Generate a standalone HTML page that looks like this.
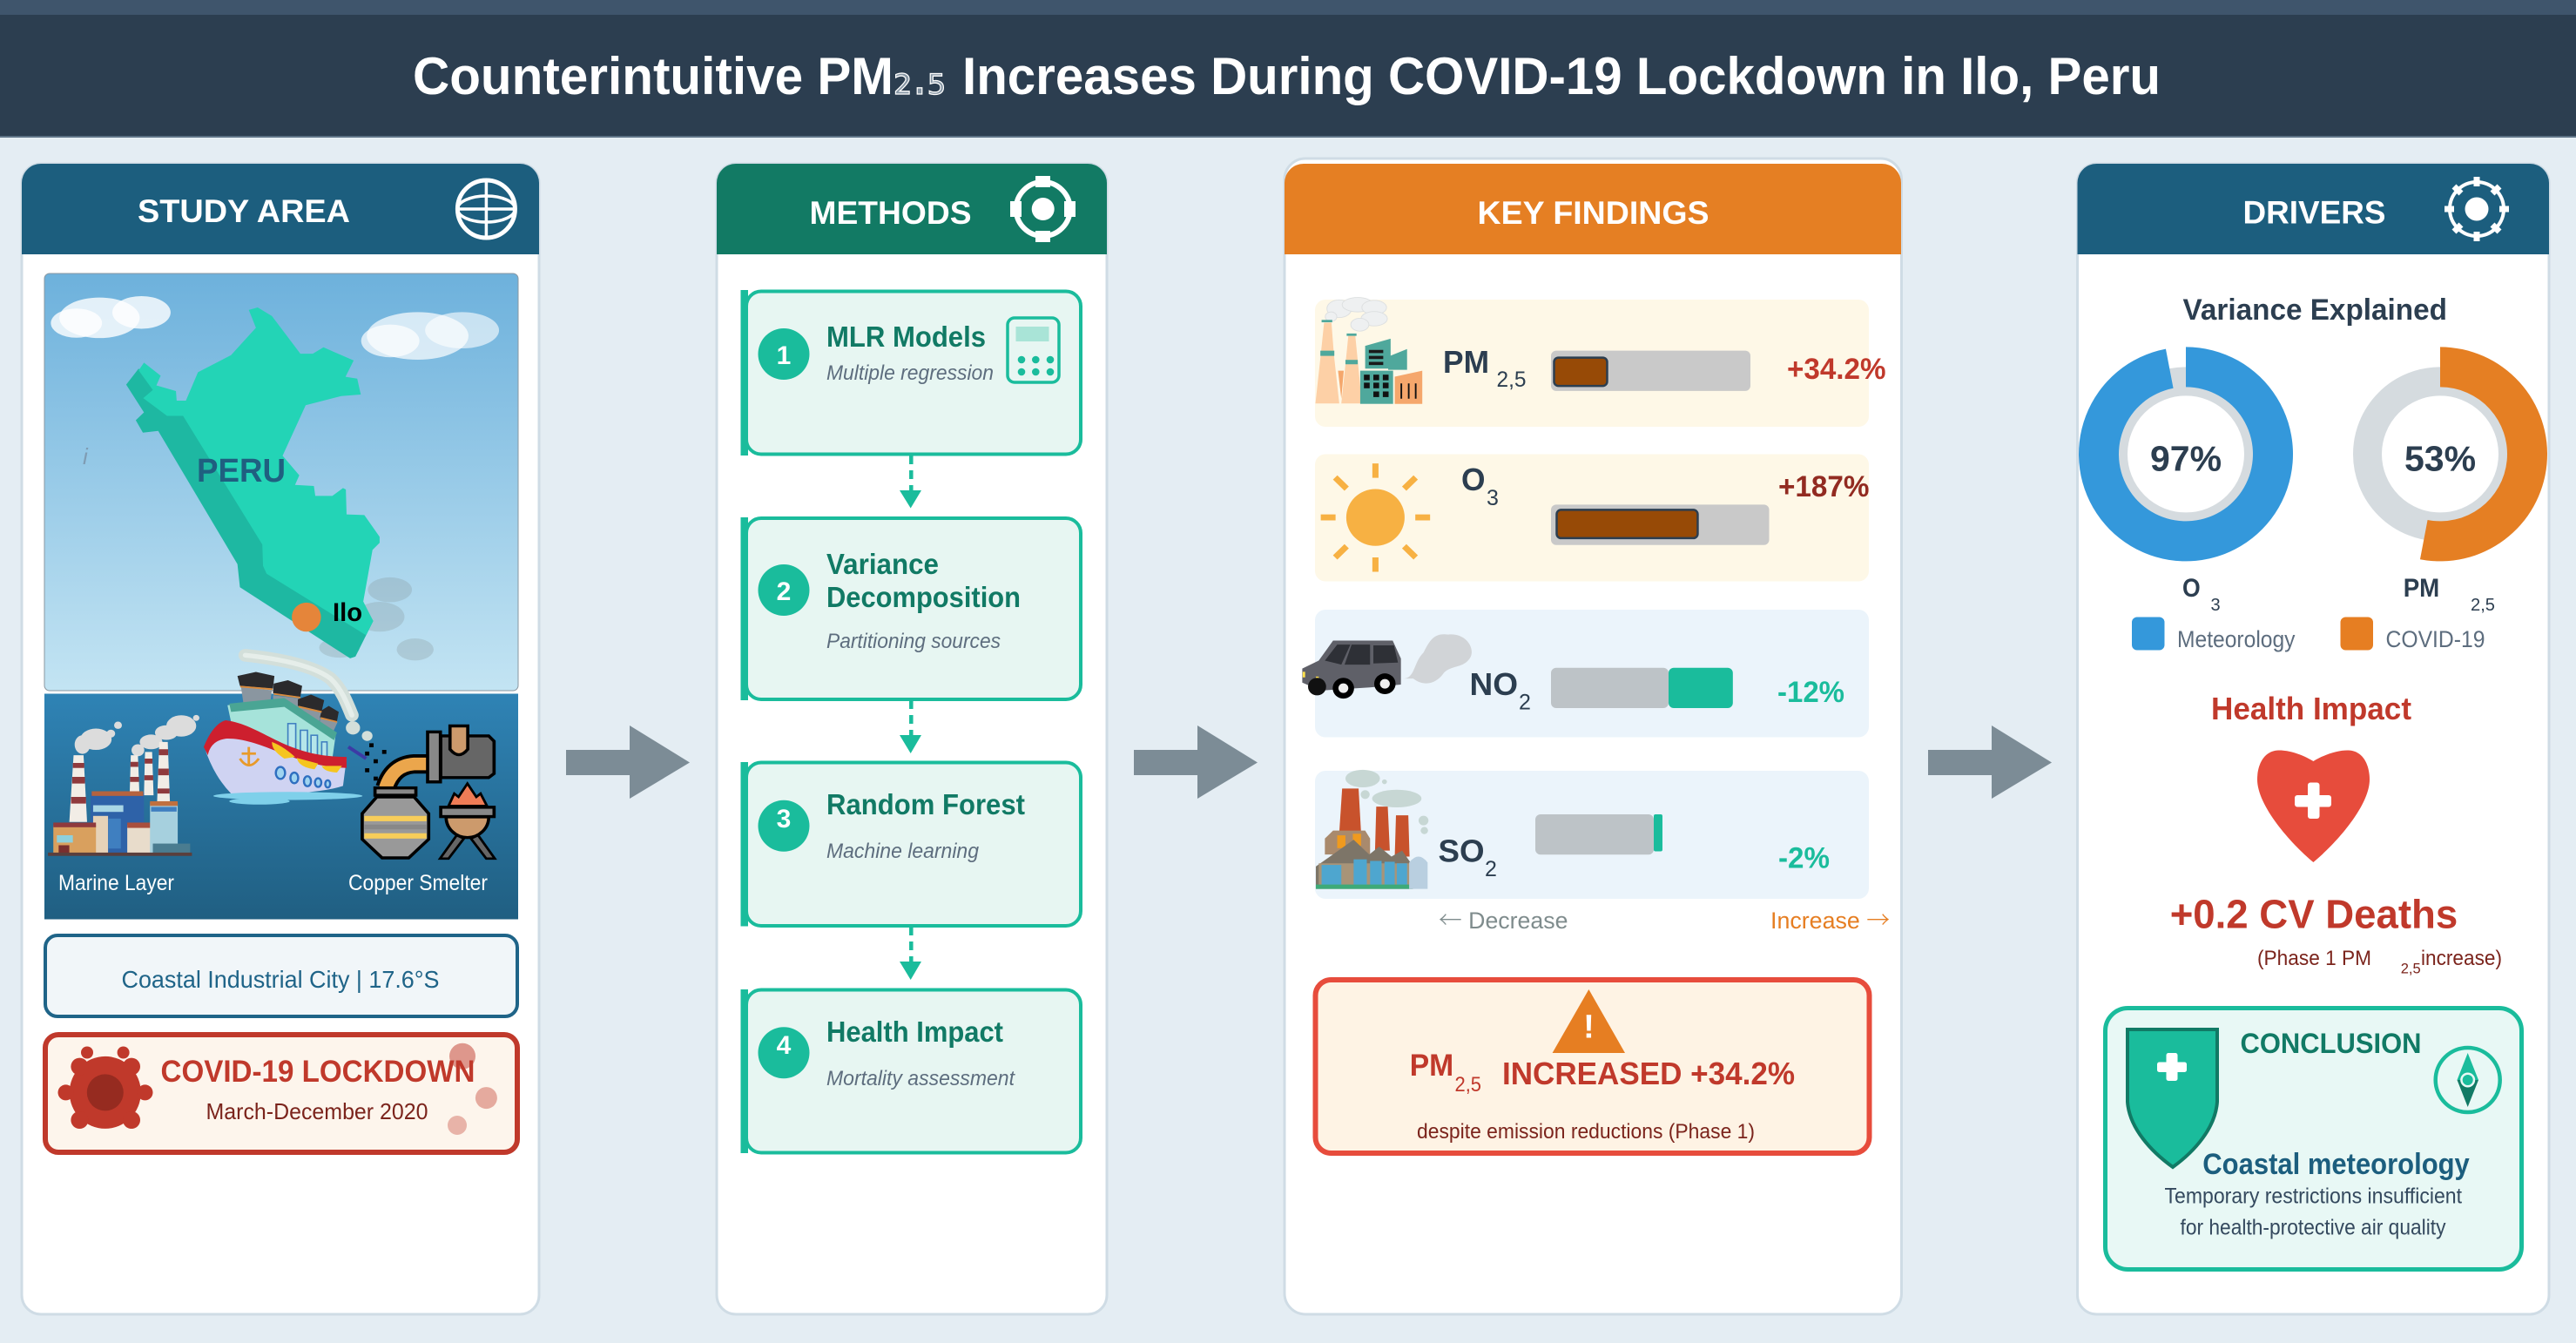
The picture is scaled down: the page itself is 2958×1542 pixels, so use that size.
<!DOCTYPE html>
<html lang="en">
<head>
<meta charset="utf-8">
<title>Counterintuitive PM2.5 Increases During COVID-19 Lockdown in Ilo, Peru</title>
<style>
html,body{margin:0;padding:0;background:#e4edf3;}
svg{display:block;font-family:"Liberation Sans","DejaVu Sans",sans-serif;}
.b{font-weight:700;}
.i{font-style:italic;}
</style>
</head>
<body>
<svg id="canvas" xmlns="http://www.w3.org/2000/svg" width="2958" height="1542" viewBox="0 0 2958 1542">
<defs>
<linearGradient id="sky" x1="0" y1="0" x2="0" y2="1"><stop offset="0" stop-color="#6db1dc"/><stop offset="1" stop-color="#c3e4f3"/></linearGradient>
<linearGradient id="sea" x1="0" y1="0" x2="0" y2="1"><stop offset="0" stop-color="#2f83b5"/><stop offset="1" stop-color="#205f82"/></linearGradient>
</defs>
<rect width="2958" height="1542" fill="#e4edf3"/>

<g>
<rect x="0" y="0" width="2958" height="157" fill="#2c3e50"/>
<rect x="0" y="0" width="2958" height="17" fill="#3f556c"/>
<rect x="0" y="156" width="2958" height="2" fill="#5d7386"/>
<g>
<text x="474" y="108" class="b" font-size="60" fill="#fff" textLength="552" lengthAdjust="spacingAndGlyphs">Counterintuitive PM</text>
<text x="1026" y="108" font-size="58" fill="#8796a4" stroke="#fff" stroke-width="1.3" style="font-family:'DejaVu Sans',sans-serif" textLength="60" lengthAdjust="spacingAndGlyphs">₂.₅</text>
<text x="1105" y="108" class="b" font-size="60" fill="#fff" textLength="1376" lengthAdjust="spacingAndGlyphs">Increases During COVID-19 Lockdown in Ilo, Peru</text>
</g>
</g>

<!-- STUDY AREA -->
<g>
<rect x="25" y="188" width="594" height="1321" rx="22" fill="#fff" stroke="#cfdce5" stroke-width="3"/>
<path d="M25,292V210a22,22 0 0 1 22,-22H597a22,22 0 0 1 22,22V292Z" fill="#1c5e7e"/>
<text x="158" y="255" class="b" font-size="37" fill="#fff" textLength="244" lengthAdjust="spacingAndGlyphs">STUDY AREA</text>
<g fill="none" stroke="#fff">
<circle cx="558.4" cy="240" r="33" stroke-width="5"/>
<ellipse cx="558.4" cy="240" rx="33" ry="15" stroke-width="3.5"/>
<path d="M558.4,207V273M525.4,240H591.4" stroke-width="3.5"/>
</g>

<g>
<rect x="51" y="314" width="544" height="479" rx="6" fill="url(#sky)" stroke="#8a97a0" stroke-width="1"/>
<g transform="translate(0,160) scale(.40816)">
<g fill="#fff">
<ellipse cx="280" cy="502" rx="113" ry="57" opacity=".8"/>
<ellipse cx="398" cy="487" rx="82" ry="46" opacity=".8"/>
<ellipse cx="215" cy="517" rx="72" ry="41" opacity=".8"/>
</g>
<g fill="#fff">
<ellipse cx="1175" cy="553" rx="143" ry="67" opacity=".7"/>
<ellipse cx="1300" cy="537" rx="104" ry="51" opacity=".6"/>
<ellipse cx="1098" cy="567" rx="82" ry="46" opacity=".7"/>
</g>
<g fill="#7f8c8d" opacity=".25">
<ellipse cx="1097" cy="1267" rx="62" ry="35"/>
<ellipse cx="1068" cy="1343" rx="70" ry="42"/>
<ellipse cx="955" cy="1430" rx="57" ry="28"/>
<ellipse cx="1168" cy="1435" rx="52" ry="31"/>
</g>
<polygon points="390,645 355,690 405,768 382,790 402,825 445,820 668,1195 675,1260 985,1460 1000,1455 1050,1355 900,1100 600,800 450,710" fill="#1eb8a2"/>
<polygon points="700,480 725,473 765,497 845,603 880,603 910,585 995,622 972,668 1005,673 1015,718 960,722 860,748 795,890 842,945 830,972 883,975 887,1003 935,1003 965,981 973,985 975,1055 1025,1057 1068,1118 1068,1135 1048,1155 1022,1300 1050,1355 1030,1395 750,1222 740,1200 738,1140 515,778 470,778 403,728 430,705 390,650 405,628 452,665 440,692 495,708 497,735 523,735 557,655 650,607 720,530" fill="#23d4b6"/>
<circle cx="862" cy="1344" r="41" fill="#e5853a"/>
</g>
<text x="226" y="553" class="b" font-size="38" fill="#1f5f80" textLength="102" lengthAdjust="spacingAndGlyphs">PERU</text>
<text x="382" y="713" class="b" font-size="30" fill="#000" textLength="34" lengthAdjust="spacingAndGlyphs">Ilo</text>
<text x="95" y="533" class="i" font-size="26" fill="#7f9cb3">i</text>
</g>

<g>
<rect x="51" y="796.5" width="544" height="259" fill="url(#sea)"/>
<g transform="translate(0,760) scale(.40816,.3827)">
<g>
<g fill="#dcdcdc">
<ellipse cx="270" cy="232" rx="44" ry="32"/><ellipse cx="232" cy="248" rx="22" ry="28"/><circle cx="312" cy="215" r="12"/><circle cx="332" cy="190" r="11"/>
<ellipse cx="510" cy="192" rx="42" ry="32"/><ellipse cx="468" cy="212" rx="32" ry="22"/><ellipse cx="425" cy="240" rx="32" ry="22"/><ellipse cx="388" cy="265" rx="18" ry="18"/><circle cx="552" cy="168" r="9"/>
</g>
<polygon points="207,280 235,280 245,480 195,480" fill="#f2ede6"/>
<path d="M205,303H237V318H205ZM203,345H239V365H203ZM200,405H242V425H200Z" fill="#8f3a3d"/>
<polygon points="368,280 388,280 392,390 365,390" fill="#f2ede6"/>
<path d="M367,300H389V315H367ZM366,345H391V360H366Z" fill="#8f3a3d"/>
<polygon points="408,270 428,270 432,400 405,400" fill="#f2ede6"/>
<path d="M407,290H429V305H407ZM406,340H431V355H406Z" fill="#8f3a3d"/>
<polygon points="448,240 472,240 478,420 442,420" fill="#f2ede6"/>
<path d="M447,262H473V280H447ZM445,320H475V340H445ZM443,380H477V395H443Z" fill="#8f3a3d"/>
<rect x="255" y="392" width="150" height="188" fill="#2e62a8"/>
<rect x="258" y="388" width="145" height="14" fill="#b5633f"/>
<rect x="262" y="430" width="85" height="20" fill="#a9d6e5"/>
<rect x="305" y="470" width="35" height="90" fill="#3f7fc0"/>
<rect x="262" y="462" width="42" height="118" fill="#e6d2b8"/>
<rect x="150" y="490" width="120" height="90" fill="#d9a05e"/>
<rect x="150" y="482" width="120" height="14" fill="#8f3a3d"/>
<rect x="160" y="520" width="45" height="22" fill="#8fd0dc"/>
<rect x="165" y="550" width="30" height="28" fill="#7a2e2e"/>
<rect x="358" y="490" width="75" height="90" fill="#e8dccb"/>
<rect x="358" y="482" width="75" height="16" fill="#a94f3d"/>
<rect x="422" y="425" width="78" height="150" fill="#a6d0de"/>
<rect x="422" y="418" width="78" height="14" fill="#c0703f"/>
<rect x="425" y="435" width="72" height="14" fill="#3f7fc0"/>
<rect x="430" y="545" width="105" height="35" fill="#4a7c90"/>
<rect x="135" y="572" width="405" height="10" fill="#5a3f3d"/>
</g>
<g>
<path d="M690,-20C780,-10 880,10 930,50C960,80 975,120 990,160" fill="none" stroke="#d3dfda" stroke-width="38" stroke-linecap="round"/>
<path d="M690,-20C780,-10 880,10 930,50C960,80 975,120 990,160" fill="none" stroke="#e6eeea" stroke-width="14" stroke-linecap="round"/>
<circle cx="993" cy="198" r="20" fill="#d3dfda"/><circle cx="1033" cy="222" r="15" fill="#d3dfda"/>
<g fill="#8a96a0">
<polygon points="678,75 765,85 760,125 685,125"/><polygon points="768,100 845,110 840,150 770,150"/><polygon points="840,135 905,150 895,190 840,190"/><polygon points="900,170 950,180 935,215 900,215"/>
</g>
<g fill="#2b2a2c">
<polygon points="668,42 720,30 772,42 768,80 675,72"/><polygon points="770,65 810,55 850,72 845,105 768,94"/><polygon points="838,112 875,98 912,115 905,148 838,132"/><polygon points="905,145 925,132 953,150 948,178 900,166"/>
</g>
<path d="M676,74L767,82M770,96L845,107M840,134L905,150M902,168L948,180" stroke="#d98a3c" stroke-width="5" fill="none"/>
<polygon points="640,130 800,110 945,215 935,290 770,290 650,180" fill="#a6e3da"/>
<polygon points="645,125 800,108 948,212 940,235 800,135 650,150" fill="#4aa594"/>
<g fill="#b5e6ea" stroke="#3f7fc0" stroke-width="4"><rect x="810" y="185" width="22" height="75"/><rect x="845" y="205" width="20" height="70"/><rect x="875" y="220" width="18" height="65"/><rect x="905" y="240" width="15" height="50"/></g>
<path d="M575,255Q600,185 635,178C720,185 800,290 975,290L965,372Q880,402 650,395Q600,340 575,255Z" fill="#cfd3f2"/>
<path d="M573,255Q600,185 635,175C740,190 800,285 975,285V318C830,315 740,230 640,230C610,232 590,250 585,280Z" fill="#cd1f2e"/>
<path d="M765,240C790,250 815,270 830,285L800,290C780,275 765,262 765,240ZM835,288L895,305L885,322C860,318 840,310 835,288ZM905,312L962,312L948,332C930,330 912,328 905,312Z" fill="#f5c51f"/>
<path d="M700,255V312M680,275H720M675,290Q700,330 728,290" fill="none" stroke="#e89a2a" stroke-width="7"/>
<g fill="#9fd4f0" stroke="#2f6fc0" stroke-width="6"><ellipse cx="789" cy="333" rx="13" ry="18"/><ellipse cx="828" cy="348" rx="11" ry="16"/><ellipse cx="865" cy="358" rx="10" ry="15"/><ellipse cx="895" cy="362" rx="9" ry="13"/><ellipse cx="922" cy="366" rx="7" ry="11"/></g>
<ellipse cx="810" cy="402" rx="210" ry="12" fill="#7fd0ea"/><ellipse cx="730" cy="418" rx="85" ry="10" fill="#7fd0ea"/>
<path d="M980,255L1030,290" stroke="#3c3ba5" stroke-width="10" fill="none"/>
</g>
<g>
<g fill="#000"><rect x="1039" y="244" width="12" height="12"/><rect x="1027" y="269" width="12" height="12"/><rect x="1075" y="264" width="12" height="12"/><rect x="1051" y="292" width="12" height="12"/><rect x="1027" y="319" width="12" height="12"/><rect x="1051" y="344" width="12" height="12"/></g>
<path d="M1200,306H1165Q1105,310 1085,378" fill="none" stroke="#000" stroke-width="58"/>
<path d="M1200,306H1165Q1105,310 1085,378" fill="none" stroke="#eba64c" stroke-width="38"/>
<path d="M1240,222H1375L1390,238V335L1375,347H1240Z" fill="#666" stroke="#000" stroke-width="9"/>
<rect x="1203" y="210" width="36" height="150" fill="#888" stroke="#000" stroke-width="9"/>
<path d="M1266,192H1316V262Q1291,295 1266,262Z" fill="#cc9a6c" stroke="#000" stroke-width="9"/>
<rect x="1055" y="378" width="115" height="22" fill="#888" stroke="#000" stroke-width="9"/>
<polygon points="1019,455 1060,405 1165,405 1206,455 1206,532 1150,588 1075,588 1019,532" fill="#999" stroke="#000" stroke-width="9"/>
<rect x="1025" y="462" width="175" height="16" fill="#f7cd5a"/><rect x="1025" y="488" width="175" height="14" fill="#888"/><rect x="1025" y="514" width="175" height="16" fill="#f7cd5a"/>
<polygon points="1262,432 1278,395 1290,405 1315,365 1340,405 1352,395 1370,432" fill="#ef7c56" stroke="#000" stroke-width="7"/>
<path d="M1255,465A60,62 0 0 0 1375,465Z" fill="#cc9a6c" stroke="#000" stroke-width="9"/>
<rect x="1240" y="436" width="150" height="28" fill="#888" stroke="#000" stroke-width="9"/>
<polygon points="1285,520 1305,530 1262,590 1238,590" fill="#666" stroke="#000" stroke-width="7"/>
<polygon points="1345,520 1325,530 1368,590 1392,590" fill="#666" stroke="#000" stroke-width="7"/>
</g>
</g>
<text x="67" y="1022" font-size="25" fill="#fff" textLength="133" lengthAdjust="spacingAndGlyphs">Marine Layer</text>
<text x="400" y="1022" font-size="25" fill="#fff" textLength="160" lengthAdjust="spacingAndGlyphs">Copper Smelter</text>
</g>

<g>
<rect x="52" y="1074" width="542" height="93" rx="14" fill="#f1f6f9" stroke="#1f6488" stroke-width="4"/>
<text x="139.5" y="1134" font-size="28" fill="#1f6488" textLength="365" lengthAdjust="spacingAndGlyphs">Coastal Industrial City | 17.6°S</text>
</g>

<g>
<rect x="52" y="1188" width="542" height="135" rx="15" fill="#fdf5ec" stroke="#c0392b" stroke-width="6"/>
<g fill="#c0392b">
<ellipse cx="120.8" cy="1254.4" rx="41" ry="41.5"/>
<circle cx="100" cy="1208.5" r="7"/><circle cx="141.6" cy="1208.5" r="7"/>
<circle cx="91.4" cy="1224.6" r="10"/><circle cx="151" cy="1224.6" r="10"/>
<circle cx="75.5" cy="1254.4" r="9"/><circle cx="166.5" cy="1254.4" r="9"/>
<circle cx="91.4" cy="1286" r="10"/><circle cx="151" cy="1286" r="10"/>
<circle cx="120.8" cy="1254.4" r="21" fill="#962b20"/>
</g>
<circle cx="531" cy="1212.7" r="15" fill="#c0392b" opacity=".5"/>
<circle cx="558.4" cy="1260.6" r="12.5" fill="#c0392b" opacity=".4"/>
<circle cx="525" cy="1292" r="11" fill="#c0392b" opacity=".35"/>
<text x="184.5" y="1242" class="b" font-size="35" fill="#c0392b" textLength="361" lengthAdjust="spacingAndGlyphs">COVID-19 LOCKDOWN</text>
<text x="236.5" y="1285" font-size="26" fill="#7b241c" textLength="255" lengthAdjust="spacingAndGlyphs">March-December 2020</text>
</g>
</g>

<!-- FLOW ARROWS -->
<g fill="#7c8c96">
<polygon points="650,861 723,861 723,833 792,875.5 723,917 723,890 650,890"/>
<polygon points="1302,861 1375,861 1375,833 1444,875.5 1375,917 1375,890 1302,890"/>
<polygon points="2214,861 2287,861 2287,833 2356,875.5 2287,917 2287,890 2214,890"/>
</g>

<!-- METHODS -->
<g>
<rect x="823" y="188" width="448" height="1321" rx="22" fill="#fff" stroke="#cfdce5" stroke-width="3"/>
<path d="M823,292V210a22,22 0 0 1 22,-22H1249a22,22 0 0 1 22,22V292Z" fill="#127a64"/>
<text x="929.5" y="257" class="b" font-size="37" fill="#fff" textLength="186" lengthAdjust="spacingAndGlyphs">METHODS</text>
<g>
<circle cx="1197.7" cy="240" r="31" fill="none" stroke="#fff" stroke-width="6"/>
<circle cx="1197.7" cy="240" r="13" fill="#fff"/>
<rect x="1189" y="202" width="17" height="13" fill="#fff"/><rect x="1189" y="265" width="17" height="13" fill="#fff"/>
<rect x="1160" y="231" width="13" height="18" fill="#fff"/><rect x="1222" y="231" width="13" height="18" fill="#fff"/>
</g>

<g>
<rect x="857" y="334.5" width="384" height="187" rx="17" fill="#e7f6f2" stroke="#1abc9c" stroke-width="4"/>
<rect x="850.5" y="333" width="8.5" height="190" fill="#1abc9c"/>
<circle cx="900" cy="406.5" r="29.5" fill="#1abc9c"/>
<text x="900" y="418" class="b" font-size="30" fill="#fff" text-anchor="middle">1</text>
<text x="949" y="398" class="b" font-size="33" fill="#117a65" textLength="183" lengthAdjust="spacingAndGlyphs">MLR Models</text>
<text x="949" y="436" class="i" font-size="24" fill="#5d6d7e" textLength="192" lengthAdjust="spacingAndGlyphs">Multiple regression</text>
<g>
<rect x="1157" y="365" width="59" height="74" rx="8" fill="none" stroke="#1abc9c" stroke-width="3.5"/>
<rect x="1166.5" y="375" width="38" height="17" fill="#a9e4d7"/>
<g fill="#1abc9c"><circle cx="1173" cy="413" r="4.3"/><circle cx="1189.3" cy="413" r="4.3"/><circle cx="1206" cy="413" r="4.3"/><circle cx="1173" cy="427" r="4.3"/><circle cx="1189.3" cy="427" r="4.3"/><circle cx="1206" cy="427" r="4.3"/></g>
</g>
</g>
<g>
<path d="M1046.3,523V563" stroke="#1abc9c" stroke-width="4.5" stroke-dasharray="10,7" fill="none"/>
<polygon points="1033,563 1058,563 1045.7,583.5" fill="#1abc9c"/>
</g>

<g>
<rect x="857" y="595" width="384" height="208" rx="17" fill="#e7f6f2" stroke="#1abc9c" stroke-width="4"/>
<rect x="850.5" y="594" width="8.5" height="210" fill="#1abc9c"/>
<circle cx="900" cy="677.5" r="29.5" fill="#1abc9c"/>
<text x="900" y="689" class="b" font-size="30" fill="#fff" text-anchor="middle">2</text>
<text x="949" y="659" class="b" font-size="33" fill="#117a65" textLength="129" lengthAdjust="spacingAndGlyphs">Variance</text>
<text x="949" y="697" class="b" font-size="33" fill="#117a65" textLength="223" lengthAdjust="spacingAndGlyphs">Decomposition</text>
<text x="949" y="744" class="i" font-size="24" fill="#5d6d7e" textLength="200" lengthAdjust="spacingAndGlyphs">Partitioning sources</text>
</g>
<g>
<path d="M1046.3,804V844" stroke="#1abc9c" stroke-width="4.5" stroke-dasharray="10,7" fill="none"/>
<polygon points="1033,844 1058,844 1045.7,865" fill="#1abc9c"/>
</g>

<g>
<rect x="857" y="875.5" width="384" height="187.5" rx="17" fill="#e7f6f2" stroke="#1abc9c" stroke-width="4"/>
<rect x="850.5" y="875" width="8.5" height="188.5" fill="#1abc9c"/>
<circle cx="900" cy="948.3" r="29.5" fill="#1abc9c"/>
<text x="900" y="950" class="b" font-size="30" fill="#fff" text-anchor="middle">3</text>
<text x="949" y="935" class="b" font-size="33" fill="#117a65" textLength="228" lengthAdjust="spacingAndGlyphs">Random Forest</text>
<text x="949" y="985" class="i" font-size="24" fill="#5d6d7e" textLength="175" lengthAdjust="spacingAndGlyphs">Machine learning</text>
</g>
<g>
<path d="M1046.3,1064V1104" stroke="#1abc9c" stroke-width="4.5" stroke-dasharray="10,7" fill="none"/>
<polygon points="1033,1104 1058,1104 1045.7,1125" fill="#1abc9c"/>
</g>

<g>
<rect x="857" y="1136.5" width="384" height="187" rx="17" fill="#e7f6f2" stroke="#1abc9c" stroke-width="4"/>
<rect x="850.5" y="1136" width="8.5" height="188" fill="#1abc9c"/>
<circle cx="900" cy="1208.7" r="29.5" fill="#1abc9c"/>
<text x="900" y="1210" class="b" font-size="30" fill="#fff" text-anchor="middle">4</text>
<text x="949" y="1196" class="b" font-size="33" fill="#117a65" textLength="203" lengthAdjust="spacingAndGlyphs">Health Impact</text>
<text x="949" y="1246" class="i" font-size="24" fill="#5d6d7e" textLength="216" lengthAdjust="spacingAndGlyphs">Mortality assessment</text>
</g>
</g>

<!-- KEY FINDINGS -->
<g>
<rect x="1475" y="182" width="708.5" height="1327" rx="24" fill="#fff" stroke="#cfdce5" stroke-width="3"/>
<path d="M1475,292V210a22,22 0 0 1 22,-22H2161a22,22 0 0 1 22,22V292Z" fill="#e57f23"/>
<text x="1696.5" y="257" class="b" font-size="37" fill="#fff" textLength="266" lengthAdjust="spacingAndGlyphs">KEY FINDINGS</text>

<rect x="1510" y="344" width="636" height="146" rx="12" fill="#fef8e7"/>
<rect x="1510" y="521.5" width="636" height="146" rx="12" fill="#fef8e7"/>
<rect x="1510" y="700" width="636" height="146.5" rx="12" fill="#ebf4fb"/>
<rect x="1510" y="885" width="636" height="147" rx="12" fill="#ebf4fb"/>

<g transform="translate(1460,320) scale(.47192,.45914)">
<g>
<g fill="#eef0f1" stroke="#dcdfe0" stroke-width="2"><ellipse cx="165" cy="75" rx="30" ry="22"/><ellipse cx="210" cy="65" rx="38" ry="18"/><ellipse cx="250" cy="72" rx="30" ry="18"/><ellipse cx="250" cy="100" rx="32" ry="18"/><ellipse cx="215" cy="115" rx="22" ry="16"/><ellipse cx="145" cy="95" rx="14" ry="12"/></g>
<polygon points="128,110 146,110 152,190 165,312 107,312 120,190" fill="#fdd0a6"/>
<rect x="122" y="103" width="26" height="6" fill="#4fa89c"/><rect x="119" y="180" width="34" height="13" fill="#4fa89c"/>
<polygon points="187,143 204,143 210,205 220,312 170,312 181,205" fill="#fdd0a6"/>
<rect x="183" y="137" width="24" height="6" fill="#4fa89c"/><rect x="180" y="203" width="30" height="11" fill="#4fa89c"/>
<polygon points="162,230 176,230 170,300" fill="#f5a76c"/>
<polygon points="228,168 290,150 290,225 228,225" fill="#4fa89c"/>
<polygon points="284,195 330,176 330,228 284,228" fill="#4fa89c"/>
<path d="M237,178H272V186H237ZM237,193H272V201H237ZM237,208H272V216H237Z" fill="#1a1a1a"/>
<rect x="216" y="230" width="80" height="83" fill="#4fa89c"/>
<g fill="#111"><rect x="225" y="240" width="14" height="14"/><rect x="248" y="240" width="14" height="14"/><rect x="271" y="240" width="14" height="14"/><rect x="225" y="260" width="14" height="14"/><rect x="248" y="260" width="14" height="14"/><rect x="271" y="260" width="14" height="14"/><rect x="248" y="282" width="14" height="14"/><rect x="271" y="282" width="14" height="14"/></g>
<polygon points="300,245 367,230 367,313 300,313" fill="#f5a76c"/>
<path d="M316,262V300M334,262V300M351,262V300" stroke="#111" stroke-width="4"/>
</g>
<g>
<path d="M320,1000C350,1000 345,960 370,935C385,905 395,885 430,890C470,885 495,920 485,945C470,975 440,965 420,985C400,1015 370,1020 345,1000Z" fill="#d1d4d7"/>
<polygon points="75,975 115,955 150,905 295,905 315,950 315,1015 240,1022 120,1030 75,1010" fill="#5f6068"/>
<polygon points="130,955 160,915 192,915 170,965" fill="#2e3036"/>
<polygon points="195,915 240,915 240,965 178,965" fill="#2e3036"/>
<polygon points="248,917 298,917 308,960 248,962" fill="#2e3036"/>
<rect x="76" y="983" width="6" height="14" fill="#ffe14d"/><rect x="108" y="995" width="7" height="15" fill="#ffe14d"/>
<circle cx="111" cy="1020" r="22" fill="#111"/>
<circle cx="175" cy="1024" r="26" fill="#000"/><circle cx="175" cy="1024" r="12" fill="#eee"/>
<circle cx="276" cy="1013" r="26" fill="#000"/><circle cx="276" cy="1013" r="12" fill="#eee"/>
</g>
<g>
<g fill="#c7d7d4"><ellipse cx="222" cy="1250" rx="42" ry="22"/><ellipse cx="305" cy="1300" rx="60" ry="22"/><circle cx="228" cy="1290" r="11"/><circle cx="370" cy="1355" r="12"/><circle cx="372" cy="1380" r="9"/><circle cx="275" cy="1258" r="6"/></g>
<polygon points="172,1275 212,1275 218,1385 165,1385" fill="#c8522c"/>
<polygon points="255,1320 283,1320 288,1430 252,1430" fill="#c8522c"/>
<polygon points="303,1342 333,1342 336,1445 300,1445" fill="#c8522c"/>
<polygon points="130,1400 150,1380 228,1380 240,1400 240,1440 130,1440" fill="#a98a6d"/>
<rect x="160" y="1392" width="20" height="32" fill="#f09a1e"/><rect x="198" y="1388" width="20" height="30" fill="#f09a1e"/>
<path d="M108,1470L200,1403L238,1440L262,1420L292,1445L318,1430L345,1470V1526H108Z" fill="#7d7568"/>
<rect x="115" y="1462" width="225" height="55" fill="#a89478"/>
<g fill="#4ea6cf"><rect x="122" y="1466" width="48" height="50"/><rect x="200" y="1452" width="32" height="64"/><rect x="240" y="1456" width="28" height="60"/><rect x="275" y="1458" width="25" height="58"/><rect x="305" y="1462" width="25" height="54"/></g>
<rect x="108" y="1515" width="235" height="11" fill="#3eaa78"/>
<path d="M335,1526V1460Q358,1430 380,1460V1526Z" fill="#b9cfe0"/>
</g>
<g>
<circle cx="253" cy="597" r="71" fill="#f7b143"/>
<g stroke="#f7b143" stroke-width="15" fill="none">
<path d="M253,462V498M253,697V733M120,597H156M350,597H386M155,497L183,525M351,497L323,525M155,697L183,669M351,697L323,669"/>
</g>
</g>
</g>

<g fill="#2c3e50">
<text x="1657" y="428" class="b" font-size="36" textLength="53" lengthAdjust="spacingAndGlyphs">PM</text>
<text x="1718.5" y="444" font-size="25" textLength="34" lengthAdjust="spacingAndGlyphs">2,5</text>
<text x="1678" y="563" class="b" font-size="36" textLength="27.5" lengthAdjust="spacingAndGlyphs">O</text>
<text x="1707" y="580" font-size="25">3</text>
<text x="1687.5" y="798" class="b" font-size="36" textLength="55.5" lengthAdjust="spacingAndGlyphs">NO</text>
<text x="1744" y="814.5" font-size="25">2</text>
<text x="1651.5" y="989.5" class="b" font-size="36" textLength="53" lengthAdjust="spacingAndGlyphs">SO</text>
<text x="1705" y="1006" font-size="25">2</text>
</g>

<g id="change-bars"></g>

<text x="1652" y="1066" font-size="27" fill="#7f8c8d" textLength="148.5" lengthAdjust="spacingAndGlyphs"><tspan style="font-family:'Noto Sans CJK JP',sans-serif;font-weight:300">←</tspan> Decrease</text>
<text x="2033" y="1066" font-size="27" fill="#e67e22" textLength="137" lengthAdjust="spacingAndGlyphs">Increase <tspan style="font-family:'Noto Sans CJK JP',sans-serif;font-weight:300">→</tspan></text>

<g>
<rect x="1510.5" y="1125" width="636" height="199" rx="18" fill="#fef3e4" stroke="#e74c3c" stroke-width="6"/>
<polygon points="1824.4,1136 1866,1209 1782.6,1209" fill="#e67e22"/>
<text x="1824.4" y="1191.5" class="b" font-size="38" fill="#fff" text-anchor="middle">!</text>
<text x="1618.7" y="1235" class="b" font-size="35" fill="#c0392b" textLength="50.5" lengthAdjust="spacingAndGlyphs">PM</text>
<text x="1670.5" y="1253" font-size="24" fill="#c0392b" textLength="30.5" lengthAdjust="spacingAndGlyphs">2,5</text>
<text x="1725" y="1245" class="b" font-size="36" fill="#c0392b" textLength="336" lengthAdjust="spacingAndGlyphs">INCREASED +34.2%</text>
<text x="1627" y="1307" font-size="24" fill="#7b241c" textLength="388" lengthAdjust="spacingAndGlyphs">despite emission reductions (Phase 1)</text>
</g>
</g>

<!-- DRIVERS -->
<g>
<rect x="2385.5" y="188" width="541.5" height="1321" rx="22" fill="#fff" stroke="#cfdce5" stroke-width="3"/>
<path d="M2385.5,292V210a22,22 0 0 1 22,-22H2905a22,22 0 0 1 22,22V292Z" fill="#1c5e7e"/>
<text x="2575.5" y="256.5" class="b" font-size="37" fill="#fff" textLength="164" lengthAdjust="spacingAndGlyphs">DRIVERS</text>
<g>
<circle cx="2844" cy="240" r="31" fill="none" stroke="#fff" stroke-width="4"/>
<circle cx="2844" cy="240" r="13.5" fill="#fff"/>
<path d="M2844,203V214M2844,266V277M2807,240H2818M2870,240H2881M2818,214L2826,222M2870,214L2862,222M2818,266L2826,258M2870,266L2862,258" stroke="#fff" stroke-width="7" fill="none"/>
</g>
<text x="2506.5" y="367" class="b" font-size="34" fill="#2c3e50" textLength="303.5" lengthAdjust="spacingAndGlyphs">Variance Explained</text>

<g id="donuts"></g>

<g fill="#2c3e50">
<text x="2506" y="685" class="b" font-size="30" textLength="20.7" lengthAdjust="spacingAndGlyphs">O</text>
<text x="2538.5" y="701" font-size="20">3</text>
<text x="2759.7" y="685" class="b" font-size="30" textLength="41.6" lengthAdjust="spacingAndGlyphs">PM</text>
<text x="2837" y="701" font-size="20" textLength="28" lengthAdjust="spacingAndGlyphs">2,5</text>
</g>
<g>
<rect x="2448" y="708.5" width="37.5" height="38" rx="6" fill="#3498db"/>
<text x="2500" y="743" font-size="27" fill="#5d6d7e" textLength="135.5" lengthAdjust="spacingAndGlyphs">Meteorology</text>
<rect x="2687.5" y="708.5" width="37.5" height="38" rx="6" fill="#e67e22"/>
<text x="2739.5" y="743" font-size="27" fill="#5d6d7e" textLength="114" lengthAdjust="spacingAndGlyphs">COVID-19</text>
</g>

<text x="2539" y="826" class="b" font-size="36" fill="#c0392b" textLength="230" lengthAdjust="spacingAndGlyphs">Health Impact</text>
<g>
<path d="M2656.4,874C2640,864 2622,860 2612,862C2598,865 2592,880 2592,895C2592,925 2630,968 2656.4,990C2683,968 2721,925 2721,895C2721,880 2715,865 2701,862C2691,860 2673,864 2656.4,874Z" fill="#e74c3c"/>
<rect x="2635" y="913" width="42" height="13.5" rx="3" fill="#fff"/>
<rect x="2650" y="898.5" width="13.5" height="41.5" rx="3" fill="#fff"/>
</g>
<text x="2491.7" y="1065.5" class="b" font-size="46" fill="#c0392b" textLength="330.5" lengthAdjust="spacingAndGlyphs">+0.2 CV Deaths</text>
<text x="2592" y="1108" font-size="24" fill="#7b241c" textLength="131" lengthAdjust="spacingAndGlyphs">(Phase 1 PM</text>
<text x="2756.7" y="1117.5" font-size="17" fill="#7b241c" textLength="23" lengthAdjust="spacingAndGlyphs">2,5</text>
<text x="2780" y="1108" font-size="24" fill="#7b241c" textLength="93" lengthAdjust="spacingAndGlyphs">increase)</text>

<g>
<rect x="2417.5" y="1157.5" width="478" height="300" rx="26" fill="#e8f8f5" stroke="#1abc9c" stroke-width="5"/>
<g>
<path d="M2443,1182H2546V1265C2544,1295 2520,1322 2495,1340C2470,1322 2445,1295 2443,1265Z" fill="#1abc9c" stroke="#117a65" stroke-width="4"/>
<rect x="2477" y="1219.5" width="34" height="11.5" rx="2.5" fill="#fff"/>
<rect x="2487.5" y="1209" width="13" height="32" rx="2.5" fill="#fff"/>
</g>
<text x="2572.5" y="1209" class="b" font-size="32" fill="#117a65" textLength="208" lengthAdjust="spacingAndGlyphs">CONCLUSION</text>
<g>
<circle cx="2833.7" cy="1240" r="37" fill="none" stroke="#1abc9c" stroke-width="4.5"/>
<polygon points="2833.7,1209 2846,1240 2821.5,1240" fill="#1abc9c"/>
<polygon points="2833.7,1271 2846,1240 2821.5,1240" fill="#117a65"/>
<circle cx="2833.7" cy="1240" r="8.5" fill="#e8f8f5"/><circle cx="2833.7" cy="1240" r="6" fill="#1abc9c"/>
</g>
<text x="2529.3" y="1348" class="b" font-size="34" fill="#1c5e7e" textLength="306.5" lengthAdjust="spacingAndGlyphs">Coastal meteorology</text>
<text x="2485.5" y="1381.5" font-size="25" fill="#34495e" textLength="341.5" lengthAdjust="spacingAndGlyphs">Temporary restrictions insufficient</text>
<text x="2503.5" y="1417.5" font-size="25" fill="#34495e" textLength="305" lengthAdjust="spacingAndGlyphs">for health-protective air quality</text>
</g>
</g>
</svg>

<script>
const pollutants = ['pm25', 'o3', 'no2', 'so2'];
const changePercent = [34.2, 187, -12, -2];
const changeLabels = ['+34.2%', '+187%', '-12%', '-2%'];
const donutNames = ['o3', 'pm25'];
const donutShares = [97, 53];

const NS = 'http://www.w3.org/2000/svg';
function shape(parent, tag, geometry) {
  const el = document.createElementNS(NS, tag);
  Object.keys(geometry).forEach(function (k) { el.setAttribute(k, geometry[k]); });
  parent.appendChild(el);
  return el;
}
/* Bar axis functions: the reference uses compressed scales on either side of zero. */
function increaseWidth(v) { return 8 * Math.pow(v, 0.575); }
function decreaseWidth(v) { return 4.6 * Math.pow(Math.abs(v), 1.117); }

function rowLayout(i) {
  if (i === 0) return { x: 1781, y: 402.6, track: 229, labelX: 2052, labelY: 435, labelW: 113.5, color: '#c0392b' };
  if (i === 1) return { x: 1781, y: 579.4, track: 250.5, labelX: 2042, labelY: 570, labelW: 104.5, color: '#922b21' };
  if (i === 2) return { x: 1781, y: 766.7, track: 135, labelX: 2041, labelY: 806, labelW: 77, color: '#1abc9c' };
  return { x: 1763, y: 935, track: 136, labelX: 2042, labelY: 996.5, labelW: 59, color: '#1abc9c' };
}

function drawBars() {
  const root = document.getElementById('change-bars');
  pollutants.forEach(function (name, i) {
    const value = changePercent[i];
    const L = rowLayout(i);
    const track = shape(root, 'rect', { x: L.x, y: L.y, width: L.track, height: 46.3, rx: 6, fill: value > 0 ? '#c9c9c9' : '#bdc3c7' });
    
    
    let fill;
    if (value > 0) {
      const inset = i === 0 ? 3.5 : 6.5;
      const top = L.y + (i === 0 ? 8 : 6);
      fill = shape(root, 'rect', { x: L.x + inset, y: top, width: increaseWidth(value), height: 32.5, rx: 5, fill: '#974a06', stroke: '#2c3e50', 'stroke-width': 2.5 });
    } else {
      fill = shape(root, 'rect', { x: L.x + L.track, y: L.y, width: decreaseWidth(value), height: i === 3 ? 42.5 : 46.3, rx: i === 3 ? 2 : 6, fill: '#1abc9c' });
    }
    
    
    const label = shape(root, 'text', { x: L.labelX, y: L.labelY, 'font-size': 34, 'font-weight': 700, fill: L.color, textLength: L.labelW, lengthAdjust: 'spacingAndGlyphs' });
    label.textContent = changeLabels[i];
    
    
  });
}

function polar(cx, cy, r, deg) {
  const a = (deg - 90) * Math.PI / 180;
  return [cx + r * Math.cos(a), cy + r * Math.sin(a)];
}
function ringSlice(cx, cy, rOut, rIn, share) {
  const end = Math.min(share, 99.99) * 3.6;
  const large = end > 180 ? 1 : 0;
  const a = polar(cx, cy, rOut, 0), b = polar(cx, cy, rOut, end);
  const c = polar(cx, cy, rIn, end), d = polar(cx, cy, rIn, 0);
  return 'M' + a + 'A' + rOut + ',' + rOut + ' 0 ' + large + ' 1 ' + b + 'L' + c + 'A' + rIn + ',' + rIn + ' 0 ' + large + ' 0 ' + d + 'Z';
}
function drawDonuts() {
  const root = document.getElementById('donuts');
  donutNames.forEach(function (name, i) {
    const cx = i === 0 ? 2510 : 2802;
    const cy = 521.4;
    const track = shape(root, 'circle', { cx: cx, cy: cy, r: 83.5, fill: 'none', stroke: '#d5dbdf', 'stroke-width': 33 });
    
    
    const arc = shape(root, 'path', { d: ringSlice(cx, cy, 123, 77, donutShares[i]), fill: i === 0 ? '#3498db' : '#e57f23' });
    
    
    const label = shape(root, 'text', { x: cx, y: 540.5, 'font-size': 41, 'font-weight': 700, fill: '#2c3e50', 'text-anchor': 'middle' });
    label.textContent = donutShares[i] + '%';
    
    
  });
}
drawBars();
drawDonuts();
</script>
</body>
</html>
